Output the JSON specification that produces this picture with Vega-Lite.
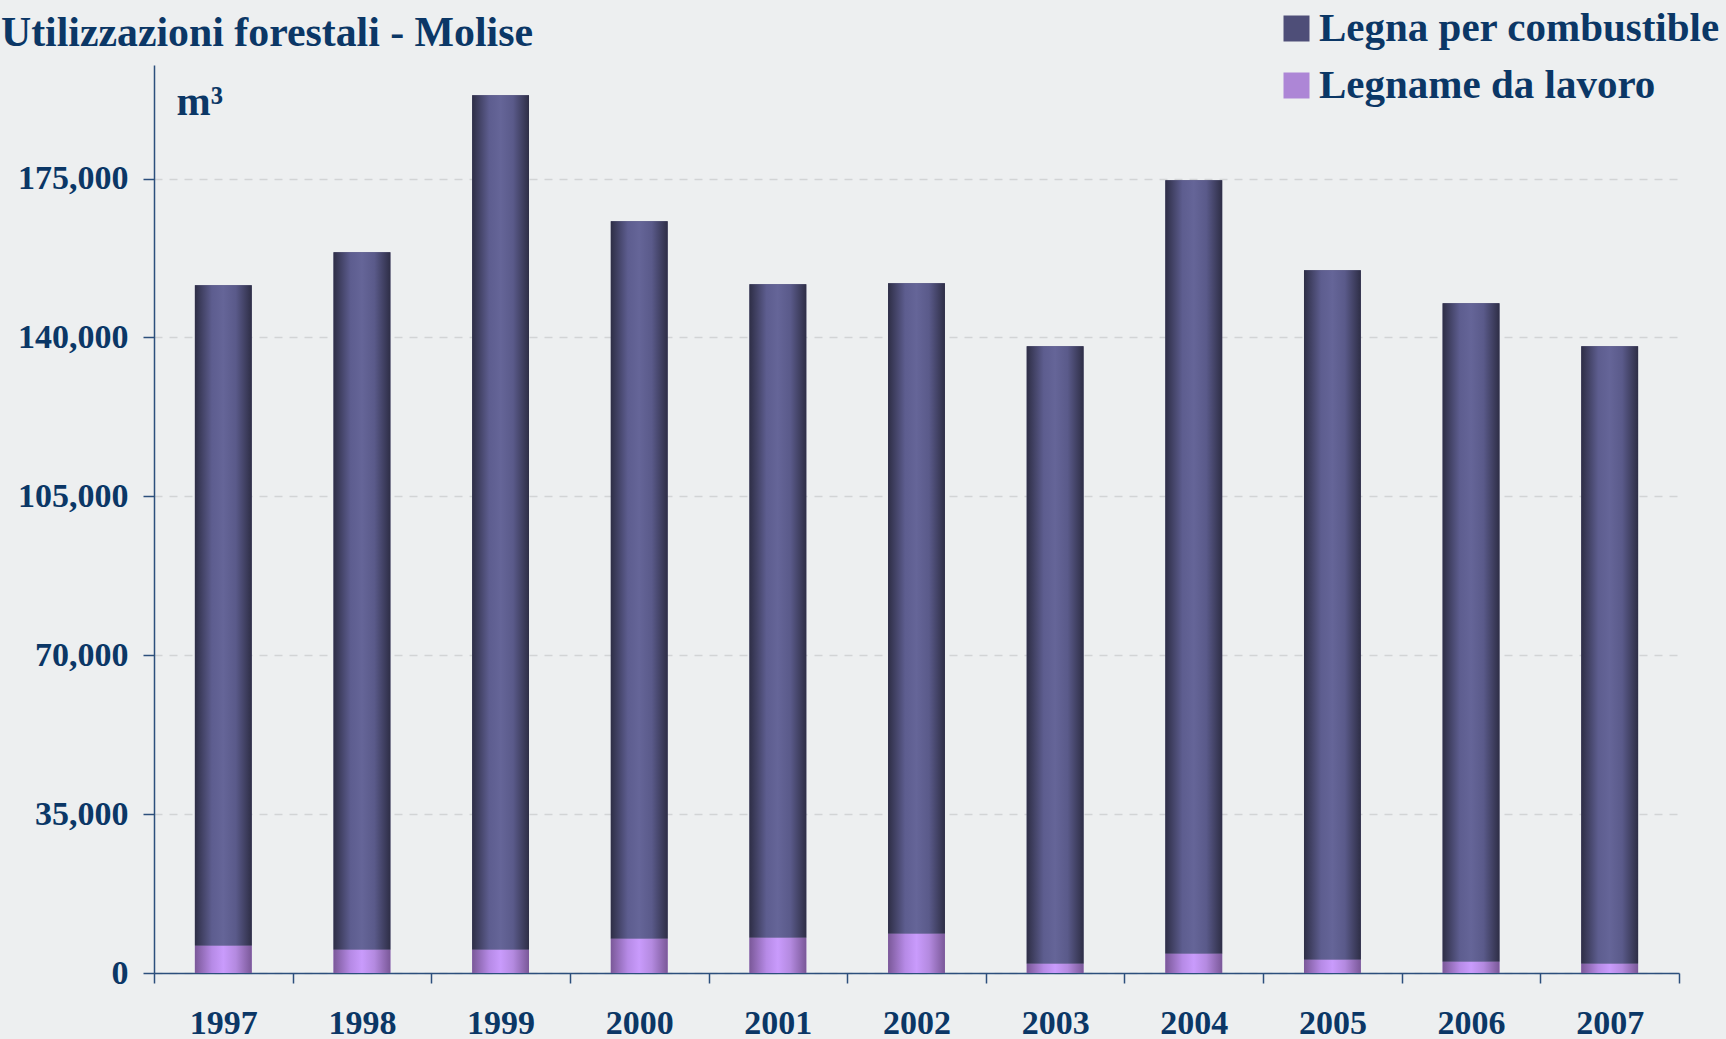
{
  "$schema": "https://vega.github.io/schema/vega-lite/v6.json",
  "width": 1525,
  "height": 908,
  "autosize": {"type": "none"},
  "padding": {"left": 154, "top": 65, "right": 47, "bottom": 66},
  "background": "#edeff0",
  "title": {
    "text": "Utilizzazioni forestali - Molise",
    "anchor": "start",
    "frame": "group",
    "baseline": "alphabetic",
    "dx": -153,
    "dy": 84,
    "font": "Liberation Serif",
    "fontSize": 41.8,
    "fontWeight": "bold",
    "color": "#0b3766"
  },
  "data": {
    "values": [
      {"anno": "1997", "serie": "Legna per combustible", "m3": 145500},
      {"anno": "1997", "serie": "Legname da lavoro", "m3": 6000},
      {"anno": "1998", "serie": "Legna per combustible", "m3": 153630},
      {"anno": "1998", "serie": "Legname da lavoro", "m3": 5130},
      {"anno": "1999", "serie": "Legna per combustible", "m3": 188180},
      {"anno": "1999", "serie": "Legname da lavoro", "m3": 5130},
      {"anno": "2000", "serie": "Legna per combustible", "m3": 158030},
      {"anno": "2000", "serie": "Legname da lavoro", "m3": 7550},
      {"anno": "2001", "serie": "Legna per combustible", "m3": 143950},
      {"anno": "2001", "serie": "Legname da lavoro", "m3": 7770},
      {"anno": "2002", "serie": "Legna per combustible", "m3": 143290},
      {"anno": "2002", "serie": "Legname da lavoro", "m3": 8650},
      {"anno": "2003", "serie": "Legna per combustible", "m3": 136020},
      {"anno": "2003", "serie": "Legname da lavoro", "m3": 2050},
      {"anno": "2004", "serie": "Legna per combustible", "m3": 170360},
      {"anno": "2004", "serie": "Legname da lavoro", "m3": 4250},
      {"anno": "2005", "serie": "Legna per combustible", "m3": 151870},
      {"anno": "2005", "serie": "Legname da lavoro", "m3": 2930},
      {"anno": "2006", "serie": "Legna per combustible", "m3": 145040},
      {"anno": "2006", "serie": "Legname da lavoro", "m3": 2490},
      {"anno": "2007", "serie": "Legna per combustible", "m3": 136020},
      {"anno": "2007", "serie": "Legname da lavoro", "m3": 2050}
    ]
  },
  "transform": [
    {"stack": "m3", "groupby": ["anno"], "sort": [{"field": "serie", "order": "descending"}], "as": ["y0", "y1"]}
  ],
  "encoding": {
    "x": {
      "field": "anno",
      "type": "ordinal",
      "scale": {"paddingInner": 0, "paddingOuter": 0},
      "axis": {
        "title": null,
        "labelAngle": 0,
        "tickBand": "extent",
        "tickSize": 10,
        "labelPadding": 23,
        "labelFontSize": 34
      }
    },
    "y": {
      "field": "y1",
      "type": "quantitative",
      "scale": {"domain": [0, 200000], "nice": false, "zero": true},
      "axis": {
        "values": [0, 35000, 70000, 105000, 140000, 175000],
        "format": ",d",
        "title": "m³",
        "titleAngle": 0,
        "titleAlign": "left",
        "titleBaseline": "alphabetic",
        "titleX": 22,
        "titleY": 49,
        "titleFontSize": 41,
        "titleFont": "Liberation Serif",
        "titleFontWeight": "bold",
        "titleColor": "#0b3766",
        "grid": true,
        "gridDash": [8, 7],
        "gridColor": "#d2d4d5",
        "gridWidth": 1.5,
        "tickSize": 11,
        "labelPadding": 15,
        "labelFontSize": 34
      }
    },
    "y2": {"field": "y0"}
  },
  "layer": [
    {
      "mark": {"type": "bar", "width": {"band": 0.41}},
      "encoding": {
        "color": {
          "field": "serie",
          "type": "nominal",
          "scale": {
            "domain": ["Legna per combustible", "Legname da lavoro"],
            "range": ["#4e4e78", "#ad86d6"]
          },
          "legend": {
            "title": null,
            "orient": "none",
            "legendX": 1122,
            "legendY": -57,
            "symbolType": "square",
            "symbolSize": 676,
            "symbolStrokeWidth": 0,
            "labelFontSize": 41,
            "labelOffset": 2,
            "rowPadding": 15,
            "labelLimit": 0,
            "symbolOpacity": 1
          }
        }
      }
    },
    {
      "transform": [{"filter": "datum.serie === 'Legna per combustible'"}],
      "mark": {
        "type": "bar",
        "width": {"band": 0.41},
        "color": {"gradient": "linear", "x1": 0, "y1": 0, "x2": 1, "y2": 0, "stops": [
          {"offset": 0, "color": "#2e2e46"},
          {"offset": 0.3, "color": "#5d5d8f"},
          {"offset": 0.5, "color": "#656598"},
          {"offset": 0.72, "color": "#5a5a8a"},
          {"offset": 1, "color": "#2e2e46"}
        ]}
      }
    },
    {
      "transform": [{"filter": "datum.serie === 'Legname da lavoro'"}],
      "mark": {
        "type": "bar",
        "width": {"band": 0.41},
        "color": {"gradient": "linear", "x1": 0, "y1": 0, "x2": 1, "y2": 0, "stops": [
          {"offset": 0, "color": "#7a5898"},
          {"offset": 0.3, "color": "#b68ae6"},
          {"offset": 0.5, "color": "#c99bfc"},
          {"offset": 0.72, "color": "#b48ae0"},
          {"offset": 1, "color": "#7a5898"}
        ]}
      }
    }
  ],
  "config": {
    "font": "Liberation Serif",
    "view": {"stroke": null},
    "axis": {
      "labelFont": "Liberation Serif",
      "labelFontWeight": "bold",
      "labelColor": "#0b3766",
      "domainColor": "#2c4f7c",
      "domainWidth": 1.5,
      "tickColor": "#2c4f7c",
      "tickWidth": 1.5
    },
    "legend": {
      "labelFont": "Liberation Serif",
      "labelFontWeight": "bold",
      "labelColor": "#0b3766"
    }
  }
}
